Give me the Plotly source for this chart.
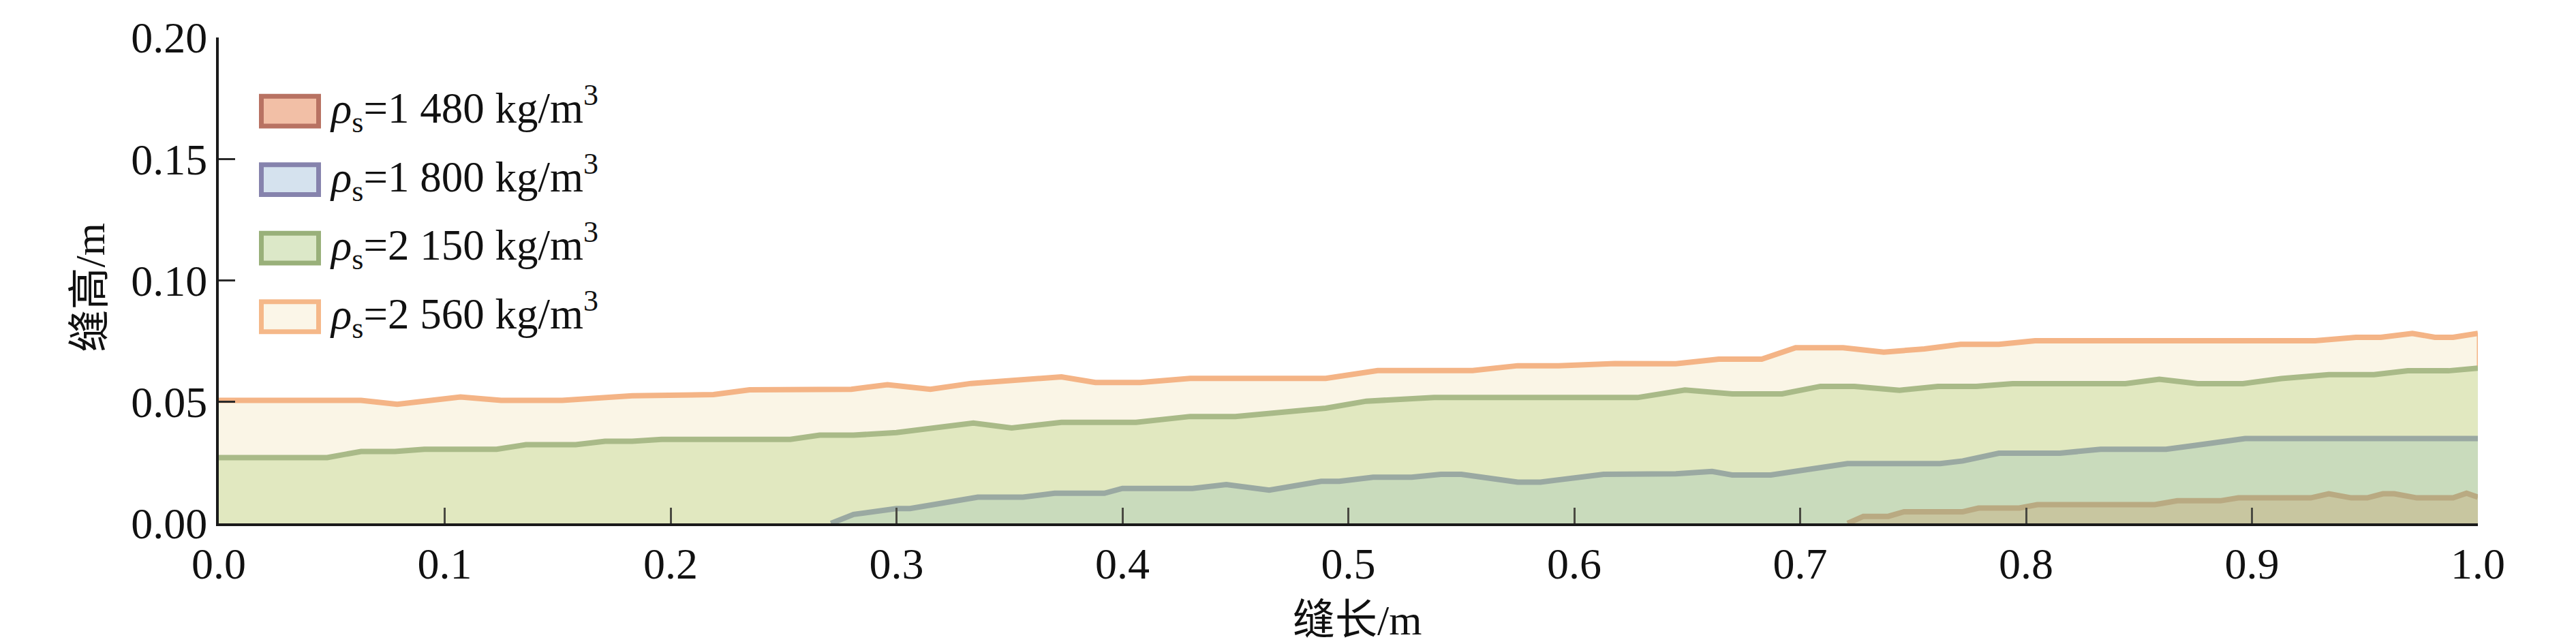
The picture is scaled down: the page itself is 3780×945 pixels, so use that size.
import plotly.graph_objects as go

# ---------------- data ----------------
x_2560 = [0.0, 0.063, 0.079, 0.107, 0.125, 0.152, 0.183, 0.200, 0.219, 0.235, 0.280, 0.296,
          0.315, 0.333, 0.353, 0.373, 0.388, 0.408, 0.430, 0.490, 0.513, 0.555, 0.575, 0.593,
          0.618, 0.645, 0.664, 0.683, 0.698, 0.719, 0.737, 0.755, 0.771, 0.788, 0.804, 0.928,
          0.946, 0.957, 0.971, 0.981, 0.989, 1.0]
y_2560 = [0.0506, 0.0506, 0.0490, 0.0520, 0.0506, 0.0506, 0.0525, 0.0530, 0.0530, 0.0550, 0.0552, 0.0571,
          0.0552, 0.0576, 0.0590, 0.0603, 0.0580, 0.0580, 0.0597, 0.0597, 0.0629, 0.0629, 0.0649, 0.0649,
          0.0658, 0.0657, 0.0676, 0.0676, 0.0723, 0.0723, 0.0705, 0.0718, 0.0737, 0.0737, 0.0752, 0.0752,
          0.0766, 0.0766, 0.0782, 0.0766, 0.0766, 0.0782]

x_2150 = [0.0, 0.048, 0.063, 0.078, 0.091, 0.123, 0.136, 0.158, 0.171, 0.183, 0.196, 0.253,
          0.266, 0.281, 0.300, 0.334, 0.351, 0.373, 0.406, 0.430, 0.450, 0.468, 0.490, 0.508,
          0.538, 0.628, 0.649, 0.670, 0.692, 0.709, 0.724, 0.744, 0.761, 0.778, 0.794, 0.844,
          0.859, 0.876, 0.896, 0.913, 0.934, 0.954, 0.969, 0.987, 1.0]
y_2150 = [0.0271, 0.0271, 0.0296, 0.0296, 0.0305, 0.0305, 0.0324, 0.0324, 0.0338, 0.0338, 0.0346, 0.0346,
          0.0363, 0.0363, 0.0374, 0.0413, 0.0393, 0.0416, 0.0416, 0.0440, 0.0440, 0.0454, 0.0474, 0.0503,
          0.0518, 0.0518, 0.0549, 0.0533, 0.0533, 0.0564, 0.0564, 0.0548, 0.0564, 0.0564, 0.0575, 0.0575,
          0.0593, 0.0575, 0.0575, 0.0596, 0.0612, 0.0612, 0.0628, 0.0628, 0.0639]

x_1800 = [0.271, 0.281, 0.300, 0.306, 0.336, 0.356, 0.370, 0.392, 0.400, 0.431, 0.446, 0.465,
          0.488, 0.496, 0.511, 0.528, 0.541, 0.550, 0.575, 0.585, 0.613, 0.645, 0.661, 0.670,
          0.687, 0.721, 0.762, 0.772, 0.788, 0.815, 0.833, 0.862, 0.875, 0.897, 1.0]
y_1800 = [0.0, 0.0037, 0.0061, 0.0061, 0.0108, 0.0108, 0.0124, 0.0124, 0.0144, 0.0144, 0.0160, 0.0137,
          0.0173, 0.0173, 0.0190, 0.0190, 0.0202, 0.0202, 0.0170, 0.0170, 0.0202, 0.0204, 0.0214, 0.0199,
          0.0199, 0.0246, 0.0246, 0.0257, 0.0289, 0.0289, 0.0305, 0.0305, 0.0321, 0.0349, 0.0349]

x_1480 = [0.721, 0.728, 0.739, 0.746, 0.772, 0.779, 0.797, 0.805, 0.857, 0.867, 0.886, 0.894,
          0.926, 0.934, 0.944, 0.951, 0.958, 0.963, 0.973, 0.989, 0.995, 1.0]
y_1480 = [0.0, 0.0029, 0.0029, 0.0048, 0.0048, 0.0063, 0.0063, 0.0077, 0.0077, 0.0093, 0.0093, 0.0105,
          0.0105, 0.0122, 0.0105, 0.0105, 0.0122, 0.0122, 0.0105, 0.0105, 0.0124, 0.0108]

x_ticks = [0.0, 0.1, 0.2, 0.3, 0.4, 0.5, 0.6, 0.7, 0.8, 0.9, 1.0]
y_ticks = [0.00, 0.05, 0.10, 0.15, 0.20]

legend_labels = [
    "<i>ρ</i><sub>s</sub>=1 480 kg/m<sup>3</sup>",
    "<i>ρ</i><sub>s</sub>=1 800 kg/m<sup>3</sup>",
    "<i>ρ</i><sub>s</sub>=2 150 kg/m<sup>3</sup>",
    "<i>ρ</i><sub>s</sub>=2 560 kg/m<sup>3</sup>",
]

# ---------------- styling ----------------
W, H = 3780, 945
ML, MR, MT, MB = 313, 152, 44, 185
PW, PH = W - ML - MR, H - MT - MB

FONT = "Liberation Serif, Times New Roman, serif"
CJK = "Liberation Serif, Noto Sans CJK SC, serif"

# drawn back-to-front: 2560, 2150, 1800, 1480
plot_series = [
    (x_2560, y_2560, "#faf5e6", "#f4b486"),
    (x_2150, y_2150, "#e1e8c0", "#a9ba88"),
    (x_1800, y_1800, "#c9dbbc", "#9aa9a2"),
    (x_1480, y_1480, "#c8c6a0", "#b9aa82"),
]
legend_fill = ["#f2bfa6", "#d5e2ee", "#dce8c8", "#fbf6e8"]
legend_edge = ["#b87262", "#8683ad", "#99b07a", "#f5b889"]


def px2x(px):
    return (px - ML) / PW


def py2y(py):
    return (H - MB - py) / PH


fig = go.Figure()
for xs, ys, fc, lc in plot_series:
    fig.add_trace(go.Scatter(x=xs, y=ys, mode="lines", fill="tozeroy",
                             fillcolor=fc, line=dict(color=lc, width=8),
                             hoverinfo="skip", showlegend=False))
    if xs is x_2560:
        # thin closing edge of the outermost area at the right end
        fig.add_trace(go.Scatter(x=[xs[-1], xs[-1]], y=[0, ys[-1]], mode="lines",
                                 line=dict(color=lc, width=3),
                                 hoverinfo="skip", showlegend=False))

shapes = []
annotations = []
for k, (lab, fc, ec) in enumerate(zip(legend_labels, legend_fill, legend_edge)):
    top = 127 + k * 101
    shapes.append(dict(type="rect", xref="paper", yref="paper",
                       x0=px2x(375.5), x1=px2x(459.5),
                       y0=py2y(top + 3.5), y1=py2y(top + 47.5),
                       fillcolor=fc, line=dict(color=ec, width=7), layer="above"))
    annotations.append(dict(text=lab, xref="paper", yref="paper",
                            x=px2x(474), y=py2y(top + 22), xanchor="left", yanchor="middle",
                            showarrow=False, font=dict(family=FONT, size=63, color="#111")))

annotations.append(dict(text="缝长/m", xref="paper", yref="paper",
                        x=px2x(1983), y=py2y(903), xanchor="center", yanchor="middle",
                        showarrow=False, font=dict(family=CJK, size=62, color="#111")))
annotations.append(dict(text="缝高/m", xref="paper", yref="paper", textangle=-90,
                        x=px2x(124), y=py2y(413), xanchor="center", yanchor="middle",
                        showarrow=False, font=dict(family=CJK, size=62, color="#111")))

fig.update_layout(
    width=W, height=H,
    margin=dict(l=ML, r=MR, t=MT, b=MB, pad=0),
    paper_bgcolor="white", plot_bgcolor="white",
    shapes=shapes, annotations=annotations,
    showlegend=False,
    xaxis=dict(range=[0, 1], tickvals=x_ticks, tickformat=".1f",
               ticks="inside", ticklen=23, tickwidth=3, tickcolor="#4a4a42",
               showline=True, linecolor="#1a1a1a", linewidth=4,
               showgrid=False, zeroline=False,
               tickfont=dict(family=FONT, size=64, color="#111")),
    yaxis=dict(range=[0, 0.2], tickvals=y_ticks, tickformat=".2f",
               ticks="inside", ticklen=24, tickwidth=3, tickcolor="#2a2a2a",
               showline=True, linecolor="#1a1a1a", linewidth=4,
               showgrid=False, zeroline=False,
               tickfont=dict(family=FONT, size=64, color="#111")),
)

fig.write_html("out.html", config={"displayModeBar": False})
